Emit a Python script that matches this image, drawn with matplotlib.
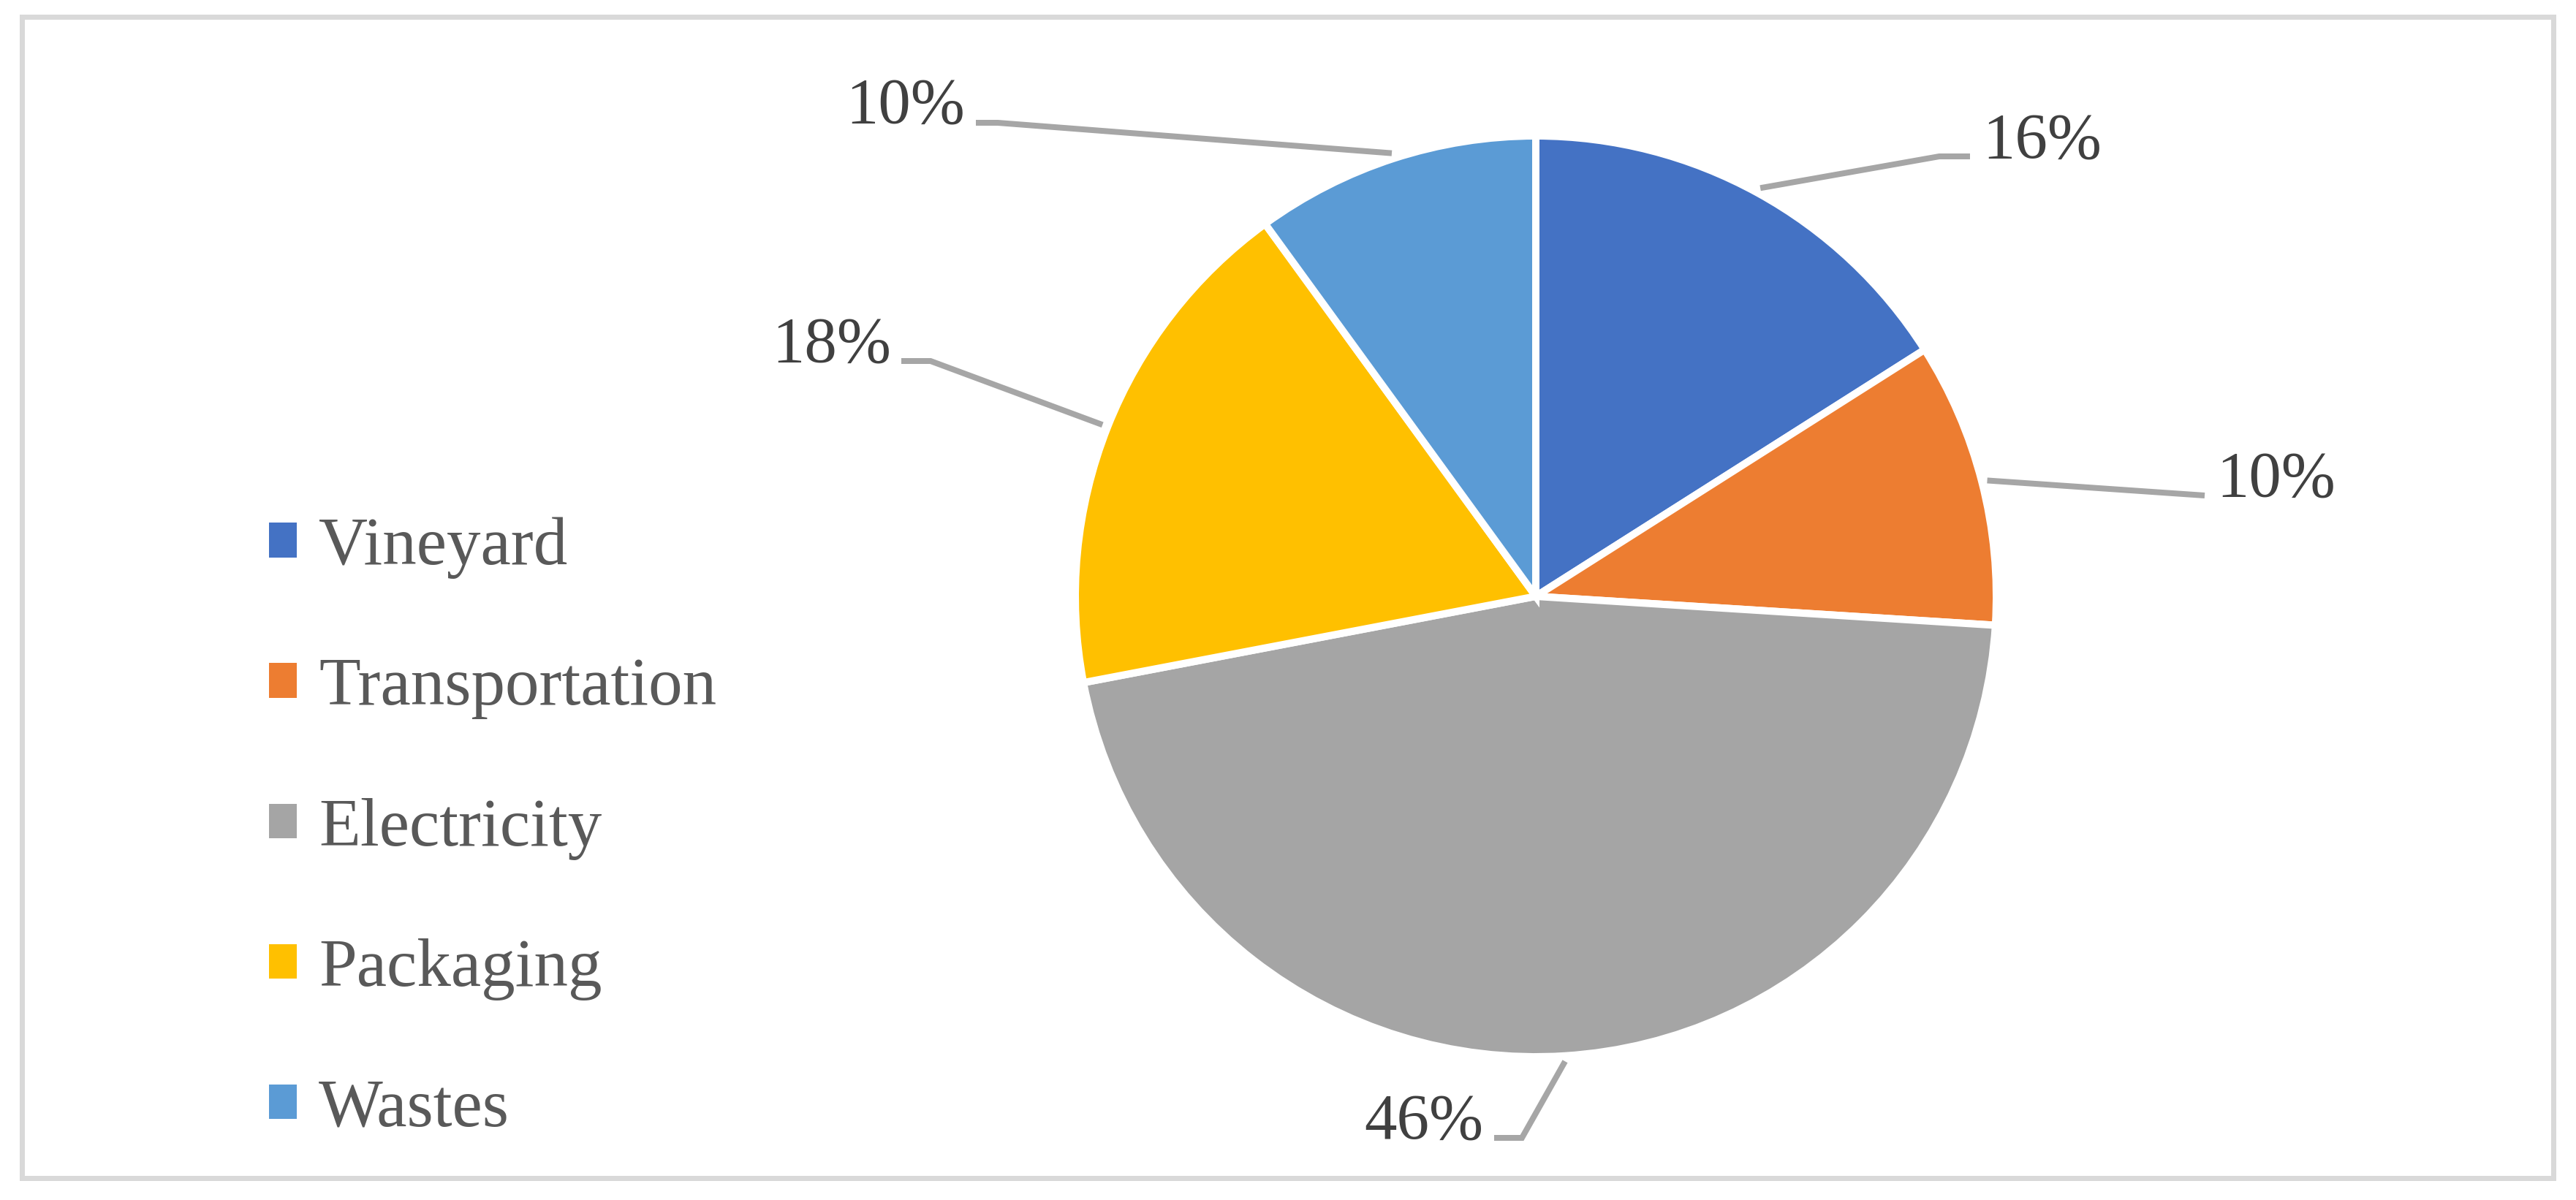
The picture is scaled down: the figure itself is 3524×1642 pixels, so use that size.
import matplotlib
matplotlib.use('Agg')
import matplotlib.pyplot as plt
import numpy as np
from matplotlib.patches import Rectangle, Patch

# ---- data ----
categories = ['Vineyard', 'Transportation', 'Electricity', 'Packaging', 'Wastes']
shares = [16, 10, 46, 18, 10]
pct_labels = ['16%', '10%', '46%', '18%', '10%']
colors = ['#4472C4', '#ED7D31', '#A5A5A5', '#FFC000', '#5B9BD5']

W, H = 3524, 1642
DPI = 200
PX = 72 / DPI  # one pixel in points

plt.rcParams['font.family'] = ['Liberation Serif', 'DejaVu Serif']

fig = plt.figure(figsize=(W / DPI, H / DPI), dpi=DPI, facecolor='white')
ax = fig.add_axes([0, 0, 1, 1])

cx, cy, R = 2101, H - 816, 630
wedges, _ = ax.pie(shares, colors=colors, startangle=90, counterclock=False,
                   center=(cx, cy), radius=R,
                   wedgeprops=dict(edgecolor='white', linewidth=10 * PX))
ax.set_xlim(0, W)
ax.set_ylim(0, H)
ax.set_aspect('equal')
ax.axis('off')

# label layout (pixel coords from top-left): elbow, end, text x, text baseline, alignment
layout = [
    ((2653, 214), (2695, 214), 2712, 216, 'left'),
    ((3016, 678), (3016, 678), 3032, 679, 'left'),
    ((2082, 1557), (2044, 1557), 2029, 1558, 'right'),
    ((1273, 494), (1233, 494), 1219, 495, 'right'),
    ((1365, 168), (1335, 168), 1320, 168, 'right'),
]
for w, lab, (elb, end, tx, ty, ha) in zip(wedges, pct_labels, layout):
    ang = np.deg2rad((w.theta1 + w.theta2) / 2)
    sx = cx + 1.012 * R * np.cos(ang)
    sy = cy + 1.012 * R * np.sin(ang)
    ax.plot([sx, elb[0], end[0]], [sy, H - elb[1], H - end[1]],
            color='#A6A6A6', lw=8 * PX, solid_capstyle='butt', solid_joinstyle='miter')
    ax.text(tx, H - ty, lab, ha=ha, va='baseline', fontsize=32, color='#404040')

# legend
fs = 33.5
fs_px = fs / PX
handles = [Patch(facecolor=c, edgecolor='none') for c in colors]
fig.legend(handles, categories, loc='center left',
           bbox_to_anchor=(368 / W, 1 - 1134 / H), frameon=False,
           fontsize=fs, labelcolor='#595959',
           handlelength=38 / fs_px, handleheight=38 / fs_px,
           handletextpad=30 / fs_px, labelspacing=1.15,
           borderpad=0, borderaxespad=0)

# outer border
fig.add_artist(Rectangle((29.5 / W, 1 - 1611.5 / H), (3492.5 - 29.5) / W, (1611.5 - 23.5) / H,
                         transform=fig.transFigure, fill=False,
                         edgecolor='#D9D9D9', lw=7 * PX))

fig.savefig('out.png', dpi=DPI, facecolor='white')
